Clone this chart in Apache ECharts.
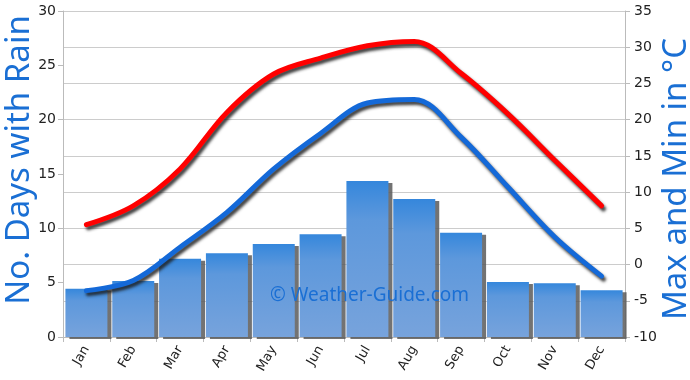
<!DOCTYPE html>
<html><head><meta charset="utf-8">
<script src="https://cdn.jsdelivr.net/npm/echarts@6/dist/echarts.min.js"></script>
<style>html,body{margin:0;padding:0;background:#fff}#c{width:690px;height:380px}</style>
</head><body><div id="c"></div>
<script>
var months = ['Jan','Feb','Mar','Apr','May','Jun','Jul','Aug','Sep','Oct','Nov','Dec'];
var rainDays = [4.45, 5.15, 7.2, 7.7, 8.55, 9.45, 14.35, 12.7, 9.6, 5.05, 4.95, 4.3];
var maxTemp = [5.5, 8.1, 13.2, 21.0, 26.3, 28.5, 30.2, 30.8, 26.4, 20.8, 14.4, 8.1];
var minTemp = [-3.6, -2.2, 2.4, 7.2, 13.2, 18.1, 22.3, 22.8, 17.6, 10.7, 3.8, -1.6];
var leftTicks = {min: 0, max: 30, interval: 5};
var rightTicks = {min: -10, max: 35, interval: 5};
var leftName = 'No. Days with Rain';
var rightName = 'Max and Min in °C';
var watermark = '© Weather-Guide.com';

var chart = echarts.init(document.getElementById('c'), null, {renderer: 'canvas'});
var nameFont = '33px "Noto Sans", sans-serif';
chart.setOption({
  animation: false,
  grid: {left: 63, right: 65, top: 11, bottom: 43, containLabel: false, outerBoundsMode: 'none'},
  xAxis: {
    type: 'category', data: months, boundaryGap: true,
    axisLine: {lineStyle: {color: '#bbb', width: 1}},
    axisTick: {show: true, alignWithLabel: false, length: 5, lineStyle: {color: '#bbb'}},
    axisLabel: {rotate: 60, color: '#222', fontSize: 13, fontFamily: '"DejaVu Sans", sans-serif', margin: 10}
  },
  yAxis: [{
    type: 'value', min: leftTicks.min, max: leftTicks.max, interval: leftTicks.interval,
    position: 'left',
    axisLine: {show: true, lineStyle: {color: '#bbb'}},
    axisTick: {show: true, length: 5, lineStyle: {color: '#bbb'}},
    splitLine: {show: false},
    axisLabel: {color: '#222', fontSize: 14, fontFamily: '"DejaVu Sans", sans-serif', margin: 7}
  }, {
    type: 'value', min: rightTicks.min, max: rightTicks.max, interval: rightTicks.interval,
    position: 'right',
    axisLine: {show: true, lineStyle: {color: '#bbb'}},
    axisTick: {show: true, length: 5, lineStyle: {color: '#bbb'}},
    splitLine: {show: true, lineStyle: {color: '#ccc', width: 1}},
    axisLabel: {color: '#222', fontSize: 14, fontFamily: '"DejaVu Sans", sans-serif', margin: 9}
  }],
  series: [{
    type: 'bar', yAxisIndex: 0, data: rainDays, barWidth: 42, z: 1,
    itemStyle: {
      color: new echarts.graphic.LinearGradient(0, 0, 0, 1, [
        {offset: 0, color: '#3587dc'},
        {offset: 0.25, color: '#5d98dc'},
        {offset: 1, color: '#77a3dc'}
      ]),
      shadowColor: 'rgba(90,90,90,0.85)', shadowOffsetX: 4, shadowOffsetY: 2, shadowBlur: 0
    }
  }, {
    type: 'line', yAxisIndex: 1, data: maxTemp, smooth: 0.35, symbol: 'none', z: 3,
    lineStyle: {color: '#ff0000', width: 5, shadowColor: 'rgba(30,30,30,0.85)', shadowBlur: 3, shadowOffsetX: 2, shadowOffsetY: 3, cap: 'round'}
  }, {
    type: 'line', yAxisIndex: 1, data: minTemp, smooth: 0.35, symbol: 'none', z: 3,
    lineStyle: {color: '#1469d8', width: 5, shadowColor: 'rgba(30,30,30,0.85)', shadowBlur: 3, shadowOffsetX: 2, shadowOffsetY: 3, cap: 'round'}
  }],
  graphic: [{
    type: 'text', x: 20, y: 160, rotation: Math.PI / 2, z: 10,
    style: {text: leftName, fill: '#1a6fd4', font: nameFont, align: 'center', verticalAlign: 'middle'}
  }, {
    type: 'text', x: 677, y: 179, rotation: Math.PI / 2, z: 10,
    style: {text: rightName, fill: '#1a6fd4', font: nameFont, align: 'center', verticalAlign: 'middle'}
  }, {
    type: 'text', left: 270, top: 286, z: 10,
    style: {text: watermark, fill: '#1a6fd4', font: '19px "Noto Sans", sans-serif'}
  }]
});
</script></body></html>
